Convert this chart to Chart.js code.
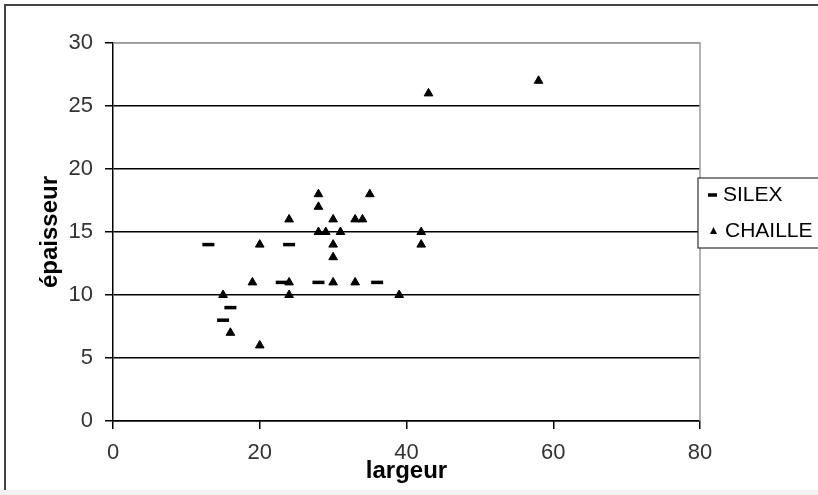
<!DOCTYPE html>
<html>
<head>
<meta charset="utf-8">
<script src="https://cdn.jsdelivr.net/npm/chart.js@4.4.1/dist/chart.umd.min.js"></script>
<style>
    html, body { margin: 0; padding: 0; background: #fff; overflow: hidden; }
    #frame { position: absolute; left: 4px; top: 4px; width: 900px; height: 484px;
             border-top: 2px solid #444; border-left: 2px solid #444; }
    #foot { position: absolute; left: 0; top: 490px; width: 818px; height: 5px; background: #f3f3f3; }
    #wrap { position: absolute; left: 0; top: 0; width: 818px; height: 495px; }
</style>
</head>
<body>
<div id="frame"></div>
<div id="foot"></div>
<div id="wrap"><canvas id="chart" width="818" height="495"></canvas></div>

<script>
// SILEX points (largeur, epaisseur)
const silexX = [13, 15, 16, 23, 24, 28, 36];
const silexY = [14, 8, 9, 11, 14, 11, 11];

// CHAILLE points
const chailleX = [15, 16, 19, 20, 20, 24, 24, 24, 28, 28, 28, 29, 30, 30, 30, 30, 31, 33, 34, 35, 33, 39, 42, 42, 43, 58];
const chailleY = [10, 7, 11, 14, 6, 16, 11, 10, 18, 17, 15, 15, 16, 14, 13, 11, 15, 16, 16, 18, 11, 10, 15, 14, 26, 27];

const xTicks = [0, 20, 40, 60, 80];
const yTicks = [0, 5, 10, 15, 20, 25, 30];

const FONT = "'Liberation Sans', Arial, sans-serif";

function toPoints(xs, ys) {
    return xs.map((x, i) => ({ x: x, y: ys[i] }));
}

// gray top / right border of the plot area
const plotBorder = {
    id: 'plotBorder',
    beforeDatasetsDraw(chart) {
        const { ctx, chartArea: a } = chart;
        ctx.save();
        ctx.strokeStyle = '#9a9a9a';
        ctx.lineWidth = 1.5;
        ctx.beginPath();
        ctx.moveTo(a.left, a.top);
        ctx.lineTo(a.right, a.top);
        ctx.lineTo(a.right, a.bottom);
        ctx.stroke();
        ctx.restore();
    }
};

// Excel style legend box on the right, cut by the edge
const legendBox = {
    id: 'legendBox',
    afterDraw(chart) {
        const { ctx } = chart;
        const left = 698, top = 178, bottom = 248;
        ctx.save();
        ctx.fillStyle = '#fff';
        ctx.fillRect(left, top, 140, bottom - top);
        ctx.strokeStyle = '#333';
        ctx.lineWidth = 1.2;
        ctx.strokeRect(left, top, 140, bottom - top);

        ctx.font = '21px ' + FONT;
        ctx.fillStyle = '#000';
        ctx.textBaseline = 'middle';
        const items = chart.data.datasets;

        // SILEX
        ctx.lineWidth = 3.5;
        ctx.strokeStyle = '#000';
        ctx.beginPath();
        ctx.moveTo(708, 195);
        ctx.lineTo(717, 195);
        ctx.stroke();
        ctx.fillText(items[0].label, 723, 195);

        // CHAILLE
        ctx.beginPath();
        ctx.moveTo(713.5, 227);
        ctx.lineTo(717, 234);
        ctx.lineTo(710, 234);
        ctx.closePath();
        ctx.fill();
        ctx.fillText(items[1].label, 725, 231);
        ctx.restore();
    }
};

const ctx = document.getElementById('chart');
new Chart(ctx, {
    type: 'scatter',
    data: {
        datasets: [
            {
                label: 'SILEX',
                data: toPoints(silexX, silexY),
                pointStyle: 'line',
                radius: 6,
                borderWidth: 3.5,
                borderColor: '#000',
                backgroundColor: '#000'
            },
            {
                label: 'CHAILLE',
                data: toPoints(chailleX, chailleY),
                pointStyle: 'triangle',
                radius: 5,
                borderWidth: 1,
                borderColor: '#000',
                backgroundColor: '#000'
            }
        ]
    },
    options: {
        responsive: false,
        animation: false,
        layout: { padding: { left: 0, top: 43, right: 118, bottom: 0 } },
        plugins: {
            legend: { display: false },
            tooltip: { enabled: false }
        },
        scales: {
            x: {
                type: 'linear',
                min: 0,
                max: 80,
                afterBuildTicks: s => { s.ticks = xTicks.map(v => ({ value: v })); },
                afterFit: s => { s.height = 74; },
                ticks: { color: '#333', padding: 11, font: { family: FONT, size: 22 } },
                grid: { drawOnChartArea: false, tickLength: 8, color: '#000', lineWidth: 1.5 },
                border: { color: '#000', width: 1.5 },
                title: {
                    display: true,
                    text: 'largeur',
                    color: '#000',
                    font: { family: FONT, size: 24, weight: 'bold' },
                    padding: { top: 0, bottom: 9 }
                }
            },
            y: {
                min: 0,
                max: 30,
                afterBuildTicks: s => { s.ticks = yTicks.map(v => ({ value: v })); },
                afterFit: s => { s.width = 113; },
                ticks: { color: '#333', padding: 12, font: { family: FONT, size: 22 } },
                grid: {
                    color: c => (c.tick && c.tick.value === 30) ? '#9a9a9a' : '#000',
                    tickColor: '#000',
                    lineWidth: 1.5,
                    tickLength: 8
                },
                border: { color: '#000', width: 1.5 },
                title: {
                    display: true,
                    text: 'épaisseur',
                    color: '#000',
                    font: { family: FONT, size: 24, weight: 'bold' },
                    padding: { top: 36, bottom: 0 }
                }
            }
        }
    },
    plugins: [plotBorder, legendBox]
});
</script>
</body>
</html>
